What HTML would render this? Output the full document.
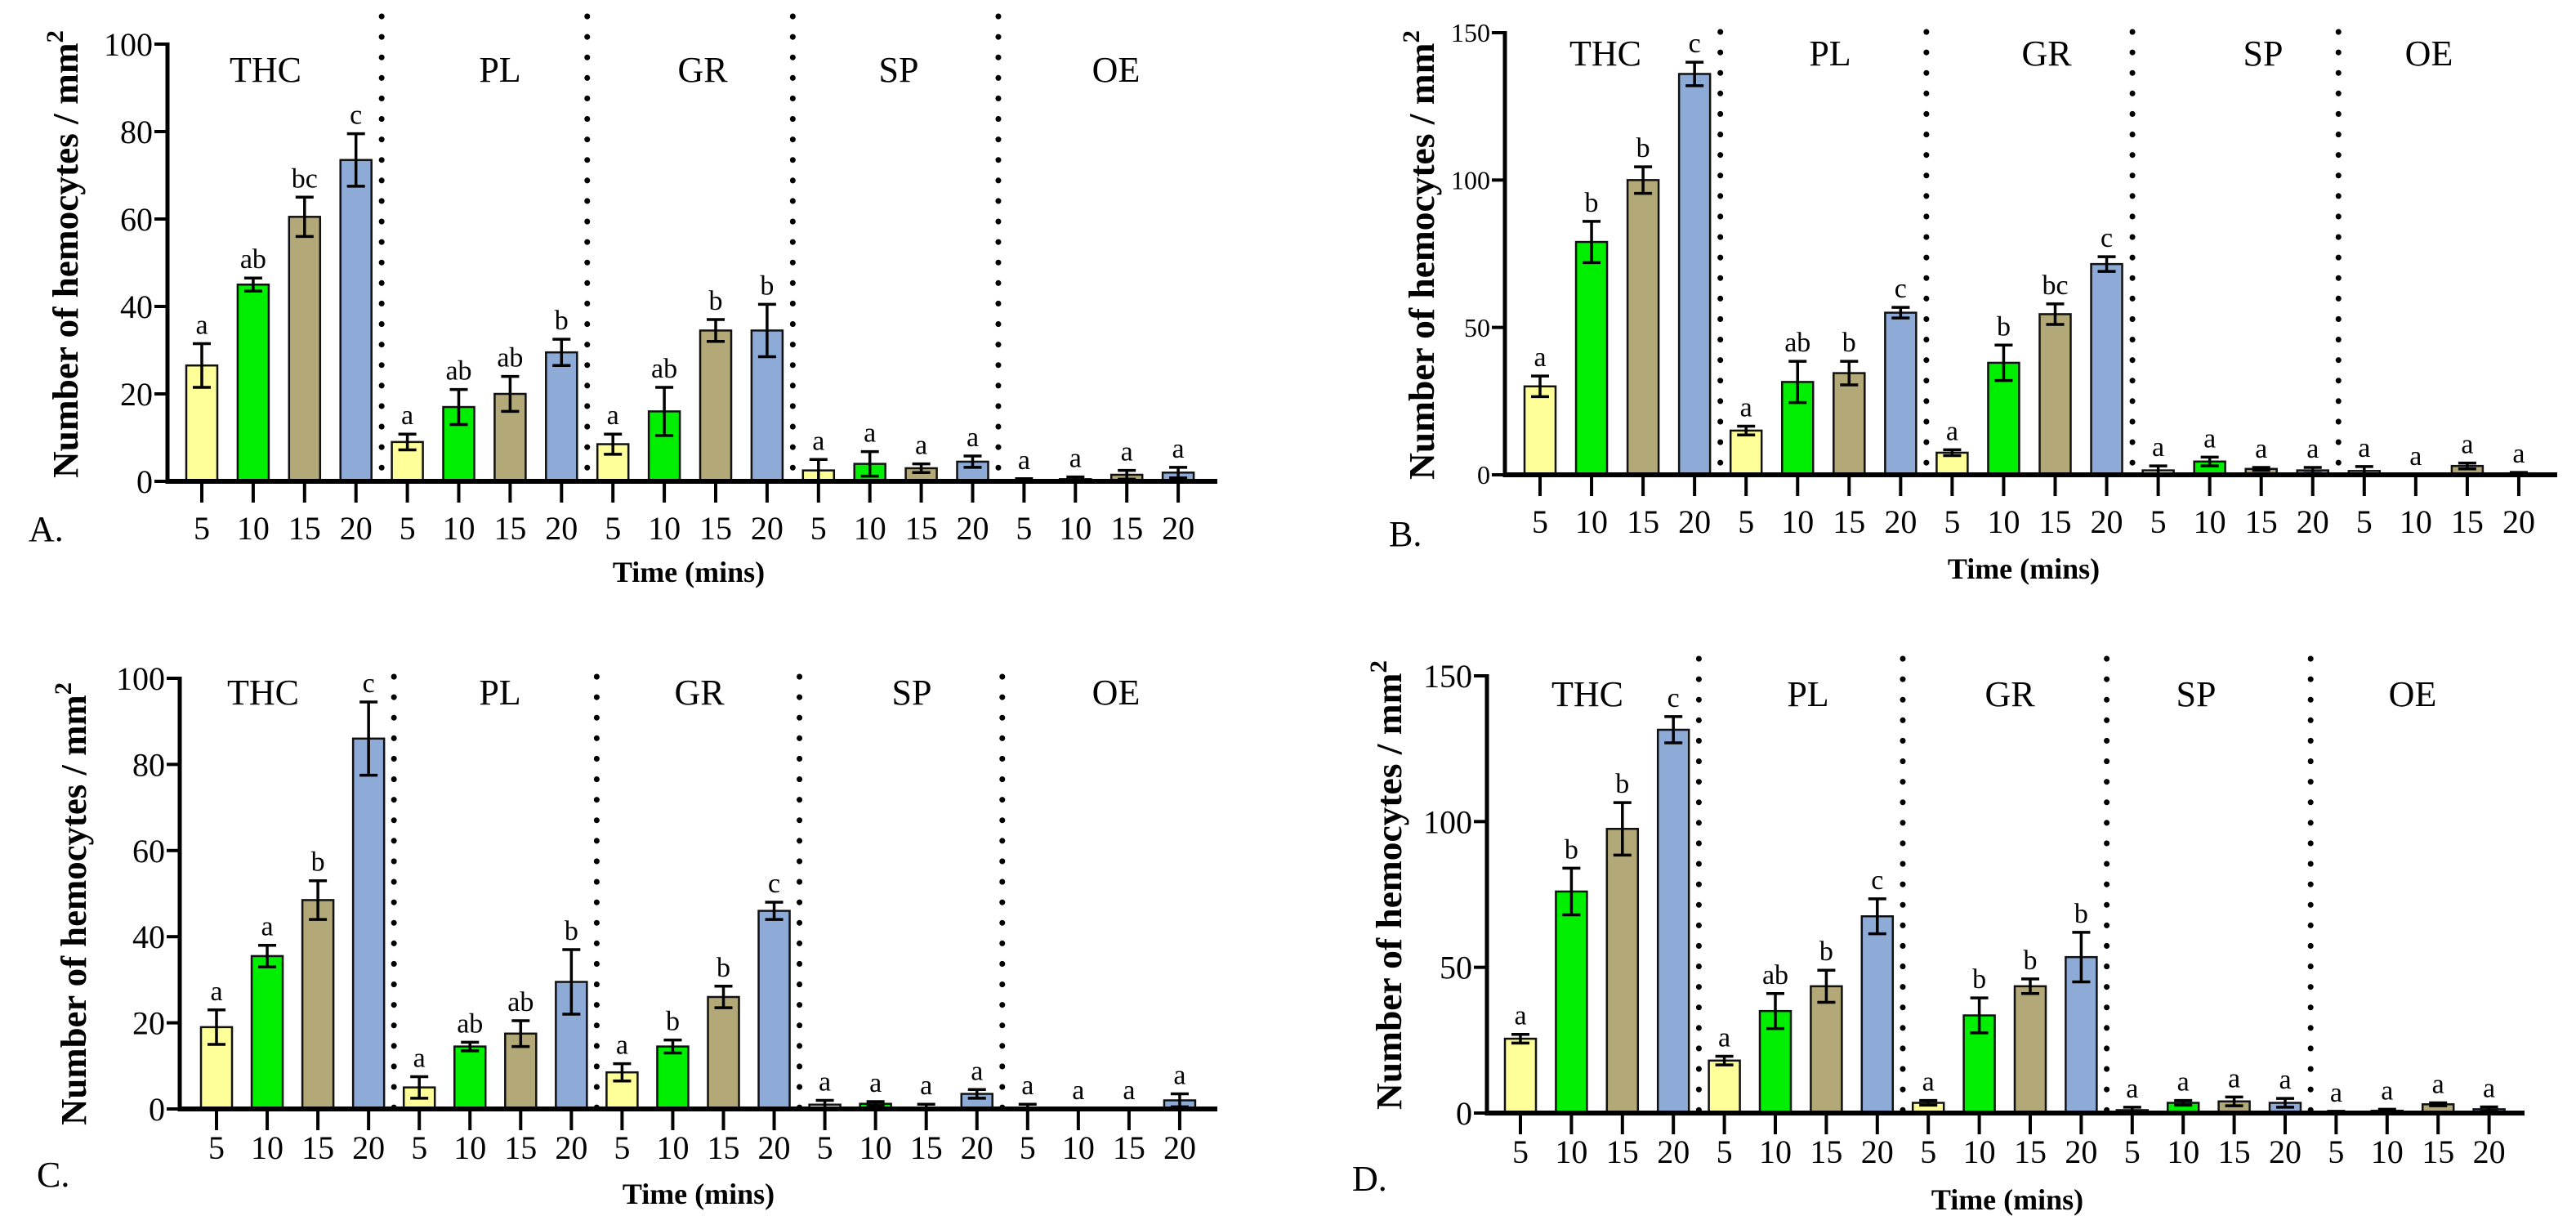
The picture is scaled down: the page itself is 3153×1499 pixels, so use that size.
<!DOCTYPE html>
<html><head><meta charset="utf-8"><style>
html,body{margin:0;padding:0;background:#fff;}
svg{display:block;}
text{font-family:"Liberation Serif",serif;fill:#000;}
</style></head><body>
<svg id="fig" width="3153" height="1499" viewBox="0 0 3153 1499" xmlns="http://www.w3.org/2000/svg"></svg>
<script>
// ---- data ----
const groups = ["THC","PL","GR","SP","OE"];
const times = ["5","10","15","20"];
const ticksAC = [0,20,40,60,80,100];
const ticksBD = [0,50,100,150];

const valuesA = [26.5,45,60.5,73.5, 9,17,20,29.5, 8.5,16,34.5,34.5, 2.5,4,3,4.5, 0.3,0.5,1.5,2];
const errorsA = [5,1.5,4.5,6, 1.8,4,4,3, 2.3,5.5,2.5,6, 2.5,2.8,1,1.3, 0.3,0.5,1,1.2];
const lettersA = ["a","ab","bc","c","a","ab","ab","b","a","ab","b","b","a","a","a","a","a","a","a","a"];

const valuesB = [30,79,100,136, 15,31.5,34.5,55, 7.5,38,54.5,71.5, 1.5,4.5,2,1.5, 1.3,0,3,0.5];
const errorsB = [3.5,7,4.5,4, 1.5,7,4,1.8, 1,6,3.5,2.5, 1.5,1.5,0.5,1, 1.5,0,1,0.3];
const lettersB = ["a","b","b","c","a","ab","b","c","a","b","bc","c","a","a","a","a","a","a","a","a"];

const valuesC = [19,35.5,48.5,86, 5,14.5,17.5,29.5, 8.5,14.5,26,46, 1,1.2,0.3,3.5, 0.3,0,0,2];
const errorsC = [4,2.5,4.5,8.5, 2.5,1,3,7.5, 2,1.5,2.5,2, 1,0.5,0.8,1, 0.8,0,0,1.5];
const lettersC = ["a","a","b","c","a","ab","ab","b","a","b","b","c","a","a","a","a","a","a","a","a"];

const valuesD = [25.5,76,97.5,131.5, 18,35,43.5,67.5, 3.5,33.5,43.5,53.5, 1,3.5,4,3.5, 0.3,0.8,3,1.3];
const errorsD = [1.5,8,9,4.5, 1.5,6,5.5,6, 0.8,6,2.5,8.5, 1,0.8,1.5,1.5, 0.3,0.5,0.5,0.8];
const lettersD = ["a","b","b","c","a","ab","b","c","a","b","b","b","a","a","a","a","a","a","a","a"];

// ---- layout ----
const colors = ["#ffff99","#00ee00","#b3a877","#8eaad6"];
const NS = "http://www.w3.org/2000/svg";
const svg = document.getElementById("fig");
function el(tag, attrs, parent, txt){
  const e = document.createElementNS(NS, tag);
  for (const k in attrs) e.setAttribute(k, attrs[k]);
  if (txt !== undefined) e.textContent = txt;
  (parent||svg).appendChild(e); return e;
}

const panels = [
 {id:"a", label:"A.", vals:valuesA, errs:errorsA, lets:lettersA, ticks:ticksAC, max:100,
  axX:205, yTop:54, yBot:589, x0:247, step:62.9, xEnd:1490, divTop:20, grpY:100, tickLblY:660,
  timeX:843, timeY:712, lblX:35, lblY:662, titleX:80, titleY:311, titleLen:548, tickFs:40, grpFs:44, grpX:[325,612,860,1100,1366]},
 {id:"b", label:"B.", vals:valuesB, errs:errorsB, lets:lettersB, ticks:ticksBD, max:150,
  axX:1842, yTop:40, yBot:581, x0:1885, step:63.05, xEnd:3130, divTop:39, grpY:80, tickLblY:652,
  timeX:2477, timeY:708, lblX:1700, lblY:668, titleX:1740, titleY:312, titleLen:550, tickFs:32, grpFs:44, grpX:[1965,2240,2505,2770,2973]},
 {id:"c", label:"C.", vals:valuesC, errs:errorsC, lets:lettersC, ticks:ticksAC, max:100,
  axX:220, yTop:830, yBot:1357, x0:265, step:62.05, xEnd:1490, divTop:828, grpY:862, tickLblY:1418,
  timeX:855, timeY:1473, lblX:45, lblY:1452, titleX:90, titleY:1106, titleLen:542, tickFs:40, grpFs:44, grpX:[322,612,856,1116,1366]},
 {id:"d", label:"D.", vals:valuesD, errs:errorsD, lets:lettersD, ticks:ticksBD, max:150,
  axX:1820, yTop:827, yBot:1362, x0:1861, step:62.4, xEnd:3090, divTop:806, grpY:864, tickLblY:1423,
  timeX:2457, timeY:1480, lblX:1655, lblY:1457, titleX:1700, titleY:1083, titleLen:550, tickFs:40, grpFs:44, grpX:[1943,2213,2460,2688,2953]}
];

panels.forEach(p => {
  const g = el("g", {});
  
  
  const yS = v => p.yBot - (v / p.max) * (p.yBot - p.yTop);
  const xS = i => p.x0 + i * p.step;
  const bw = 38;

  for (let k = 1; k < groups.length; k++) {
    const x = (xS(4*k-1) + xS(4*k)) / 2;
    const d = el("line", {x1:x, x2:x, y1:p.divTop, y2:p.yBot, stroke:"#000", "stroke-width":7, "stroke-linecap":"round", "stroke-dasharray":"0.1 25"}, g);
    
    
  }
  groups.forEach((gr, k) => {
    const t = el("text", {x:p.grpX[k], y:p.grpY, "font-size":p.grpFs, "text-anchor":"middle"}, g, gr);
    
    
  });
  p.vals.forEach((v, i) => {
    const x = xS(i), y = yS(v);
    const r = el("rect", {x:x-bw/2, y:y, width:bw, height:Math.max(0,p.yBot-y), fill:colors[i%4], stroke:"#111", "stroke-width":2.5}, g);
    
    
    const e = p.errs[i];
    if (e > 0) {
      const eg = el("g", {stroke:"#000", "stroke-width":3.5}, g);
      
      
      el("line", {x1:x, x2:x, y1:yS(v+e), y2:yS(Math.max(0,v-e))}, eg);
      el("line", {x1:x-11, x2:x+11, y1:yS(v+e), y2:yS(v+e)}, eg);
      el("line", {x1:x-11, x2:x+11, y1:yS(Math.max(0,v-e)), y2:yS(Math.max(0,v-e))}, eg);
    }
    const lt = el("text", {x:x, y:yS(v+e)-12, "font-size":34, "text-anchor":"middle"}, g, p.lets[i]);
    
    
    el("line", {x1:x, x2:x, y1:p.yBot, y2:p.yBot+26, stroke:"#000", "stroke-width":4}, g);
    const xl = el("text", {x:x, y:p.tickLblY, "font-size":40, "text-anchor":"middle"}, g, times[i%4]);
    
    
  });
  const ya = el("line", {x1:p.axX, x2:p.axX, y1:p.yTop-2, y2:p.yBot+3, stroke:"#000", "stroke-width":5}, g);
  
  
  const xa = el("line", {x1:p.axX-2, x2:p.xEnd, y1:p.yBot, y2:p.yBot, stroke:"#000", "stroke-width":6}, g);
  
  
  p.ticks.forEach(t => {
    const y = yS(t);
    el("line", {x1:p.axX-16, x2:p.axX, y1:y, y2:y, stroke:"#000", "stroke-width":4}, g);
    const tl = el("text", {x:p.axX-18, y:y+p.tickFs*0.35, "font-size":p.tickFs, "text-anchor":"end"}, g, t);
    
    
  });
  const yt = el("text", {x:0, y:0, "font-size":44, "font-weight":"bold", "text-anchor":"middle",
    "font-family":"'DejaVu Serif', serif",
    textLength:p.titleLen, lengthAdjust:"spacingAndGlyphs",
    transform:`translate(${p.titleX+15},${p.titleY}) rotate(-90)`}, g);
  
  
  yt.textContent = "Number of hemocytes / mm";
  el("tspan", {dy:-18, "font-size":30}, yt, "2");
  const xt = el("text", {x:p.timeX, y:p.timeY, "font-size":36, "font-weight":"bold", "text-anchor":"middle"}, g, "Time (mins)");
  
  
  const pl = el("text", {x:p.lblX, y:p.lblY, "font-size":44}, g, p.label);
  
  
});
</script>
</body></html>
